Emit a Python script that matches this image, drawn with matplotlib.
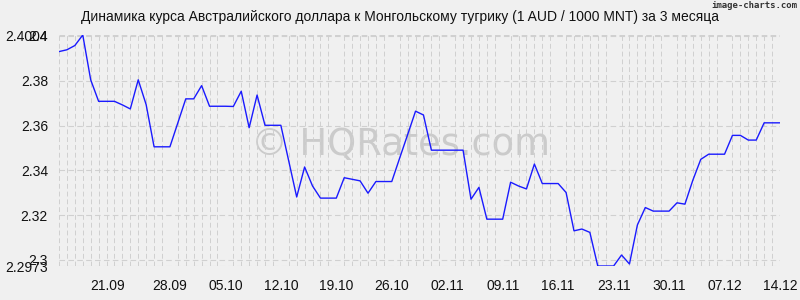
import numpy as np
import pandas as pd
import matplotlib
matplotlib.use("Agg")
import matplotlib.pyplot as plt

# курс AUD / 1000 MNT, 14.09 - 14.12
rates = [
    2.3930, 2.3938, 2.3957, 2.4004, 2.3804, 2.3708, 2.3708, 2.3708, 2.3692, 2.3674,
    2.3804, 2.3693, 2.3505, 2.3505, 2.3505, 2.3612, 2.3719, 2.3719, 2.3778, 2.3686,
    2.3686, 2.3686, 2.3685, 2.3753, 2.3590, 2.3736, 2.3601, 2.3601, 2.3601, 2.3441,
    2.3281, 2.3415, 2.3330, 2.3276, 2.3276, 2.3276, 2.3367, 2.3360, 2.3353, 2.3298,
    2.3350, 2.3350, 2.3350, 2.3455, 2.3559, 2.3664, 2.3647, 2.3490, 2.3490, 2.3490,
    2.3490, 2.3490, 2.3271, 2.3324, 2.3182, 2.3182, 2.3182, 2.3347, 2.3330, 2.3317,
    2.3428, 2.3341, 2.3341, 2.3341, 2.3301, 2.3130, 2.3138, 2.3123, 2.2973, 2.2973,
    2.2973, 2.3022, 2.2982, 2.3156, 2.3234, 2.3218, 2.3218, 2.3218, 2.3255, 2.3249,
    2.3356, 2.3449, 2.3472, 2.3472, 2.3472, 2.3556, 2.3556, 2.3535, 2.3535, 2.3612,
    2.3612, 2.3612,
]
dates = pd.date_range("2023-09-14", periods=len(rates), freq="D")
date_labels = ["21.09", "28.09", "05.10", "12.10", "19.10", "26.10", "02.11",
               "09.11", "16.11", "23.11", "30.11", "07.12", "14.12"]
y_ticks = [2.2973, 2.3, 2.32, 2.34, 2.36, 2.38, 2.4, 2.4004]
y_labels = ["2.2973", "2.3", "2.32", "2.34", "2.36", "2.38", "2.4", "2.4004"]

bg = "#f0f0f0"
grid_col = "#d0d0d0"
plt.rcParams["font.family"] = ["Liberation Sans", "DejaVu Sans"]

fig = plt.figure(figsize=(8, 3), dpi=100, facecolor=bg)
ax = fig.add_axes([59 / 800, 1 - 266 / 300, 721 / 800, 231 / 300], facecolor=bg)

x = np.arange(len(rates))
ax.plot(x, rates, color="#1a1aff", lw=1.0)

ax.set_xlim(0, len(rates) - 1)
ax.set_ylim(min(rates), max(rates))

# подписи дат (первая у картинки сдвинута чуть левее)
labels_str = list(dates.strftime("%d.%m"))
tick_pos = [labels_str.index(d) for d in date_labels]
tick_pos[0] -= 0.9
ax.set_xticks(tick_pos)
ax.set_xticklabels(date_labels)
ax.set_xticks(x, minor=True)
ax.set_yticks(y_ticks)
ax.set_yticklabels(y_labels)

ax.tick_params(axis="both", which="both", length=0, labelsize=10, colors="#111111")
ax.tick_params(axis="x", pad=9)
ax.tick_params(axis="y", pad=8)

ax.grid(axis="x", which="minor", color=grid_col, lw=0.7, linestyle=(0, (5, 3)))
ax.grid(axis="y", which="major", color=grid_col, lw=0.8, linestyle=(0, (5, 3)))
ax.grid(axis="x", which="major", visible=False)
for s in ax.spines.values():
    s.set_visible(False)
ax.set_axisbelow(True)

fig.text(0.5, 1 - 17 / 300,
         "Динамика курса Австралийского доллара к Монгольскому тугрику (1 AUD / 1000 MNT) за 3 месяца",
         ha="center", va="center", fontsize=10, color="#111111")
fig.text(0.997, 0.995, "image-charts.com", ha="right", va="top",
         fontsize=6.5, family="DejaVu Sans Mono", weight="bold", color="#333333")
ax.text(0.473, 0.525, "© HQRates.com", transform=ax.transAxes, ha="center", va="center",
        fontsize=26.5, family="DejaVu Sans", color="#cbcbcb", zorder=0)

fig.savefig("out.png", dpi=100, facecolor=bg)
